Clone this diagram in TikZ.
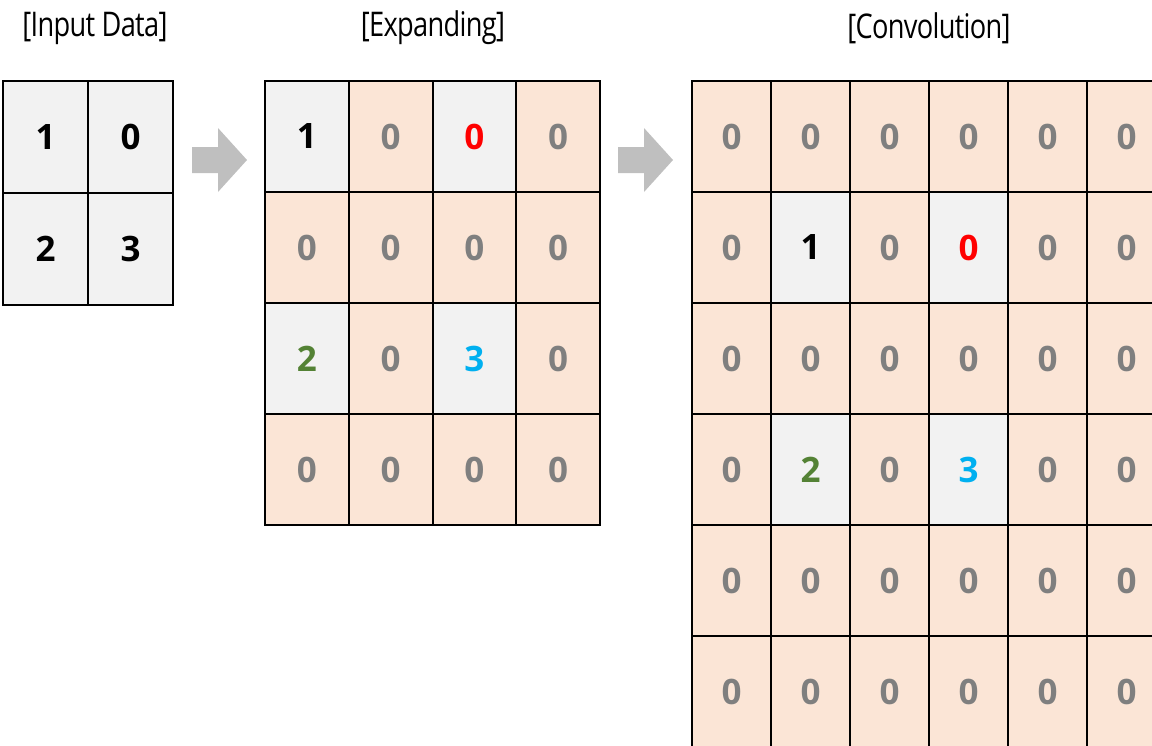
\documentclass[tikz,border=0pt]{standalone}
\usepackage{fontspec}
\setmainfont{Open Sans}
\newfontfamily\titlefont[FakeStretch=0.8,LetterSpace=-2]{Open Sans}
\definecolor{cgray}{HTML}{F2F2F2}
\definecolor{cpeach}{HTML}{FBE5D6}
\definecolor{dgray}{HTML}{7F7F7F}
\definecolor{cred}{HTML}{FF0000}
\definecolor{cgreen}{HTML}{548235}
\definecolor{cblue}{HTML}{00B0F0}
\definecolor{agray}{HTML}{BFBFBF}
\begin{document}
\begin{tikzpicture}[x=1pt,y=-1pt,
  cell/.style={draw=black, line width=2pt, inner sep=0pt, anchor=center,
    font=\bfseries\fontsize{35}{35}\selectfont},
  incell/.style={cell, minimum width=85pt, minimum height=112pt},
  excell/.style={cell, minimum width=83.75pt, minimum height=111pt},
  cvcell/.style={cell, minimum width=79pt, minimum height=111pt},
  Ek/.style={fill=cgray, text=black},
  Er/.style={fill=cgray, text=cred},
  Eg/.style={fill=cgray, text=cgreen},
  Eb/.style={fill=cgray, text=cblue},
  Pz/.style={fill=cpeach, text=dgray},
  ttl/.style={font=\titlefont\fontsize{34}{36}\selectfont, inner sep=0pt},
  blockarrow/.style={fill=agray}
]
\useasboundingbox (0,0) rectangle (1152,745);
\clip (0,0) rectangle (1152,745);

% titles
\node[ttl] (t1) at (95,28) {[Input Data]};
\node[ttl] (t2) at (433,28) {[Expanding]};
\node[ttl] (t3) at (929,28) {[Convolution]};

% input data
\foreach \s/\v [count=\c] in {Ek/1,Ek/0}
  \node[incell,\s] (in-1-\c) at ({3+(\c-0.5)*85},{81+0.5*112}) {\v};
\foreach \s/\v [count=\c] in {Ek/2,Ek/3}
  \node[incell,\s] (in-2-\c) at ({3+(\c-0.5)*85},{81+1.5*112}) {\v};

% expanding
\foreach \s/\v [count=\c] in {Ek/1,Pz/0,Er/0,Pz/0}
  \node[excell,\s] (ex-1-\c) at ({265+(\c-0.5)*83.75},{81+0.5*111}) {\v};
\foreach \s/\v [count=\c] in {Pz/0,Pz/0,Pz/0,Pz/0}
  \node[excell,\s] (ex-2-\c) at ({265+(\c-0.5)*83.75},{81+1.5*111}) {\v};
\foreach \s/\v [count=\c] in {Eg/2,Pz/0,Eb/3,Pz/0}
  \node[excell,\s] (ex-3-\c) at ({265+(\c-0.5)*83.75},{81+2.5*111}) {\v};
\foreach \s/\v [count=\c] in {Pz/0,Pz/0,Pz/0,Pz/0}
  \node[excell,\s] (ex-4-\c) at ({265+(\c-0.5)*83.75},{81+3.5*111}) {\v};

% convolution
\foreach \s/\v [count=\c] in {Pz/0,Pz/0,Pz/0,Pz/0,Pz/0,Pz/0}
  \node[cvcell,\s] (cv-1-\c) at ({692+(\c-0.5)*79},{81+0.5*111}) {\v};
\foreach \s/\v [count=\c] in {Pz/0,Ek/1,Pz/0,Er/0,Pz/0,Pz/0}
  \node[cvcell,\s] (cv-2-\c) at ({692+(\c-0.5)*79},{81+1.5*111}) {\v};
\foreach \s/\v [count=\c] in {Pz/0,Pz/0,Pz/0,Pz/0,Pz/0,Pz/0}
  \node[cvcell,\s] (cv-3-\c) at ({692+(\c-0.5)*79},{81+2.5*111}) {\v};
\foreach \s/\v [count=\c] in {Pz/0,Eg/2,Pz/0,Eb/3,Pz/0,Pz/0}
  \node[cvcell,\s] (cv-4-\c) at ({692+(\c-0.5)*79},{81+3.5*111}) {\v};
\foreach \s/\v [count=\c] in {Pz/0,Pz/0,Pz/0,Pz/0,Pz/0,Pz/0}
  \node[cvcell,\s] (cv-5-\c) at ({692+(\c-0.5)*79},{81+4.5*111}) {\v};
\foreach \s/\v [count=\c] in {Pz/0,Pz/0,Pz/0,Pz/0,Pz/0,Pz/0}
  \node[cvcell,\s] (cv-6-\c) at ({692+(\c-0.5)*79},{81+5.5*111}) {\v};

% block arrows
\coordinate (arr1) at (192,160);
\coordinate (arr2) at (618,160);
\foreach \a in {arr1,arr2}
  \fill[blockarrow] (\a) ++(0,-13) -- ++(26,0) -- ++(0,-19) -- ++(29,32)
    -- ++(-29,32) -- ++(0,-19) -- ++(-26,0) -- cycle;
\end{tikzpicture}
\end{document}
